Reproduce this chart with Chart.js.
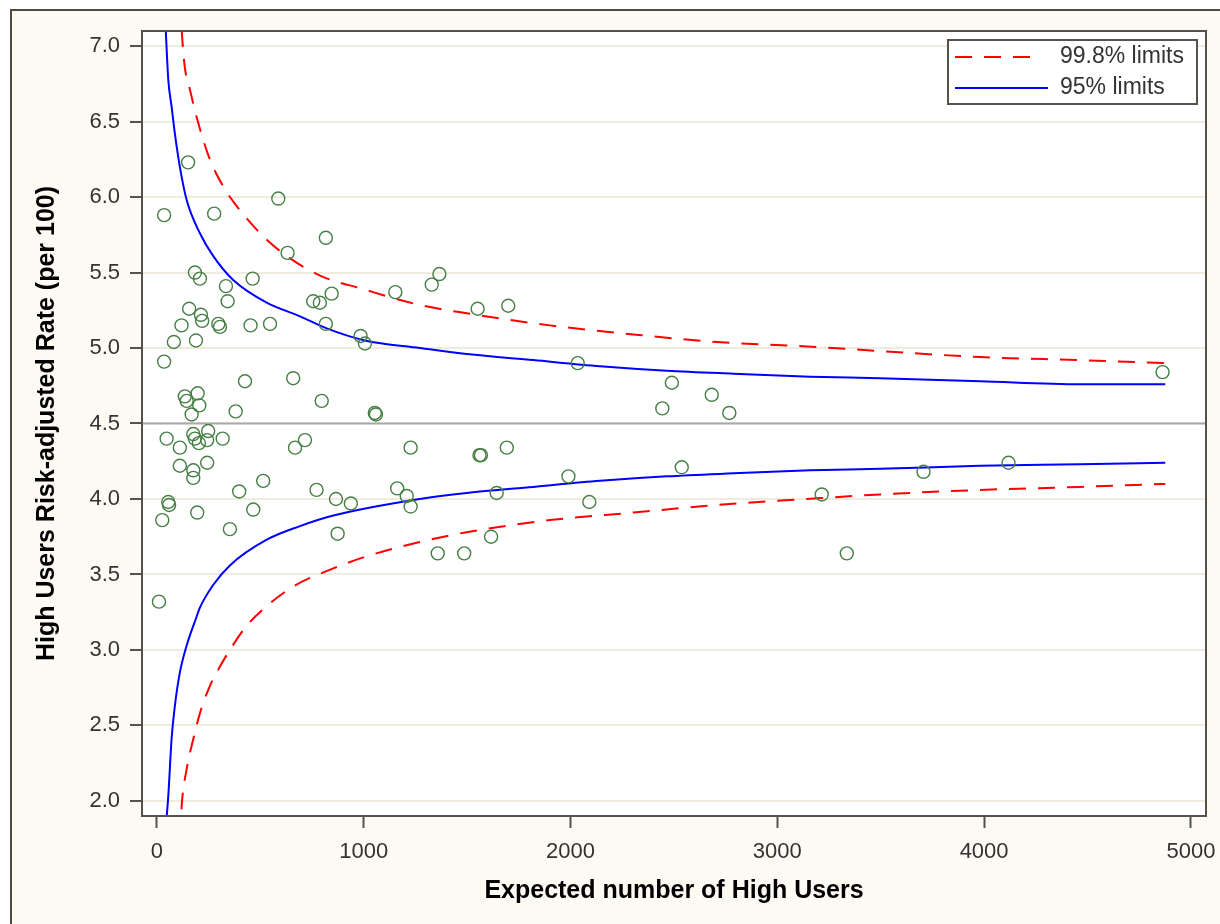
<!DOCTYPE html>
<html lang="en">
  <head>
    <meta charset="UTF-8" />
    <title>High Users | Funnel Plot</title>
    <script src="https://cdn.jsdelivr.net/npm/chart.js@4.4.1/dist/chart.umd.min.js"></script>
    <style>
      body { margin: 0; background: #fff; }
      canvas { display: block; }
    </style>
  </head>
  <body>
    <canvas id="funnelChart" width="1220" height="924"></canvas>

    <script>
      // axis ranges and tick labels
      const xMin = -72, xMax = 5073;
      const yMin = 1.9, yMax = 7.1;
      const xTicks = [0, 1000, 2000, 3000, 4000, 5000];
      const yTicks = [2.0, 2.5, 3.0, 3.5, 4.0, 4.5, 5.0, 5.5, 6.0, 6.5, 7.0];
      const meanRate = 4.5;

      // observed units (expected count, risk-adjusted rate)
      const expectedUsers = [
        151, 35, 277, 587, 817, 632, 184, 208, 334, 463, 1153, 845, 756, 788, 342, 156,
        213, 219, 297, 305, 119, 453, 547, 817, 82, 189, 985, 1006, 35, 426, 659, 135,
        144, 197, 205, 168, 381, 797, 1054, 1059, 47, 111, 176, 184, 203, 243, 248, 318,
        668, 716, 1227, 111, 176, 176, 243, 514, 398, 772, 866, 938, 1162, 1208, 1227, 55,
        59, 26, 195, 466, 353, 874, 10, 1366, 1329, 1551, 1699, 2035, 2490, 2683, 2444, 2768,
        1560, 1567, 1692, 2538, 1990, 1643, 2091, 1616, 1358, 1486, 4863, 3215, 3707, 4118, 3336
      ];
      const riskRate = [
        6.23, 5.88, 5.89, 5.99, 5.73, 5.63, 5.50, 5.46, 5.41, 5.46, 5.37, 5.36, 5.31, 5.30, 5.31, 5.26,
        5.22, 5.18, 5.16, 5.14, 5.15, 5.15, 5.16, 5.16, 5.04, 5.05, 5.08, 5.03, 4.91, 4.78, 4.80, 4.68,
        4.65, 4.70, 4.62, 4.56, 4.58, 4.65, 4.57, 4.56, 4.40, 4.34, 4.43, 4.40, 4.37, 4.39, 4.45, 4.40,
        4.34, 4.39, 4.34, 4.22, 4.19, 4.14, 4.24, 4.12, 4.05, 4.06, 4.00, 3.97, 4.07, 4.02, 3.95, 3.98,
        3.96, 3.86, 3.91, 3.93, 3.80, 3.77, 3.32, 5.49, 5.42, 5.26, 5.28, 4.90, 4.77, 4.69, 4.60, 4.57,
        4.29, 4.29, 4.34, 4.21, 4.15, 4.04, 3.98, 3.75, 3.64, 3.64, 4.84, 4.03, 4.18, 4.24, 3.64
      ];

      // control limits
      const upper95X = [38, 55, 71, 87, 111, 144, 208, 272, 369, 531, 692, 821, 1006, 1272, 1498, 1820, 2143, 2466, 2788, 3159, 3497, 3981, 4465, 4876];
      const upper95 = [7.25, 6.78, 6.60, 6.42, 6.20, 5.98, 5.76, 5.61, 5.45, 5.30, 5.21, 5.13, 5.05, 5.00, 4.96, 4.92, 4.88, 4.85, 4.83, 4.81, 4.80, 4.78, 4.76, 4.76];
      const lower95X = [38, 55, 71, 87, 111, 144, 192, 208, 272, 353, 531, 692, 853, 1272, 1498, 1820, 2143, 2466, 2788, 3159, 3497, 3981, 4465, 4876];
      const lower95 = [1.75, 2.03, 2.41, 2.63, 2.85, 3.03, 3.22, 3.28, 3.43, 3.56, 3.73, 3.82, 3.89, 4.00, 4.04, 4.08, 4.12, 4.15, 4.17, 4.19, 4.20, 4.22, 4.23, 4.24];
      const upper998X = [112, 120, 135, 160, 192, 256, 321, 386, 514, 627, 789, 998, 1256, 1498, 1901, 2304, 2707, 3143, 3497, 3981, 4465, 4876];
      const upper998 = [7.30, 7.10, 6.86, 6.71, 6.53, 6.25, 6.07, 5.94, 5.74, 5.61, 5.48, 5.39, 5.29, 5.23, 5.15, 5.09, 5.04, 5.01, 4.98, 4.94, 4.92, 4.90];
      const lower998X = [112, 120, 144, 176, 208, 256, 305, 353, 434, 531, 659, 853, 1014, 1256, 1498, 1901, 2304, 2707, 3143, 3497, 3981, 4465, 4876];
      const lower998 = [1.75, 1.97, 2.21, 2.41, 2.58, 2.76, 2.89, 3.00, 3.16, 3.29, 3.42, 3.54, 3.62, 3.71, 3.78, 3.86, 3.91, 3.96, 4.00, 4.03, 4.06, 4.08, 4.10];

      const legendLabels = ["99.8% limits", "95% limits"];

      const toPoints = (xs, ys) => xs.map((x, i) => ({ x: x, y: ys[i] }));

      const RED = "#ff0000";
      const BLUE = "#0000ff";
      const FRAME = "#55524a";

      function limitLine(label, xs, ys, color, dash) {
        return {
          type: "line",
          label: label,
          data: toPoints(xs, ys),
          borderColor: color,
          borderWidth: 2,
          borderDash: dash,
          pointRadius: 0,
          fill: false,
          cubicInterpolationMode: "monotone"
        };
      }

      const framePlugin = {
        id: "framePlugin",
        beforeDraw(chart) {
          const { ctx, width, height, chartArea: a } = chart;
          ctx.save();
          ctx.fillStyle = "#fff";
          ctx.fillRect(0, 0, width, height);
          ctx.fillStyle = "#fcfaf3";
          ctx.fillRect(11, 10, width, height);
          ctx.strokeStyle = "#4e4b40";
          ctx.lineWidth = 2;
          ctx.beginPath();
          ctx.moveTo(11, height);
          ctx.lineTo(11, 10);
          ctx.lineTo(width, 10);
          ctx.stroke();
          ctx.fillStyle = "#fff";
          ctx.fillRect(a.left, a.top, a.right - a.left, a.bottom - a.top);
          ctx.restore();
        },
        afterDraw(chart) {
          const { ctx, chartArea: a } = chart;
          ctx.save();
          ctx.strokeStyle = FRAME;
          ctx.lineWidth = 2;
          ctx.strokeRect(a.left, a.top, a.right - a.left, a.bottom - a.top);

          // legend box in the top right corner of the plot
          const bw = 249, bh = 64;
          const bx = a.right - 9 - bw, by = a.top + 9;
          ctx.fillStyle = "#fff";
          ctx.fillRect(bx, by, bw, bh);
          ctx.strokeRect(bx, by, bw, bh);

          ctx.font = "23px 'Liberation Sans', Arial, sans-serif";
          ctx.textBaseline = "middle";
          ctx.textAlign = "left";
          legendLabels.forEach((label, i) => {
            const ds = chart.data.datasets.find((d) => d.label === label);
            const rowY = by + 17 + i * 31;
            ctx.strokeStyle = ds.borderColor;
            ctx.lineWidth = 2;
            ctx.setLineDash(ds.borderDash || []);
            ctx.beginPath();
            ctx.moveTo(bx + 7, rowY);
            ctx.lineTo(bx + (ds.borderDash ? 86 : 100), rowY);
            ctx.stroke();
            ctx.setLineDash([]);
            ctx.fillStyle = "#333";
            ctx.fillText(label, bx + 112, rowY);
          });
          ctx.restore();
        }
      };

      Chart.defaults.font.family = "'Liberation Sans', Arial, sans-serif";

      const ctx = document.getElementById("funnelChart").getContext("2d");
      new Chart(ctx, {
        type: "scatter",
        data: {
          datasets: [
            {
              label: "Risk-adjusted rate",
              data: toPoints(expectedUsers, riskRate),
              pointStyle: "circle",
              pointRadius: 6.5,
              borderWidth: 1.4,
              pointBorderColor: "#467f46",
              pointBackgroundColor: "rgba(0,0,0,0)",
              showLine: false
            },
            limitLine("99.8% limits", upper998X, upper998, RED, [17, 12]),
            limitLine("99.8% limits lower", lower998X, lower998, RED, [17, 12]),
            limitLine("95% limits", upper95X, upper95, BLUE, undefined),
            limitLine("95% limits lower", lower95X, lower95, BLUE, undefined),
            {
              type: "line",
              label: "Mean",
              data: toPoints([xMin, xMax], [meanRate, meanRate]),
              borderColor: "#a9a9a9",
              borderWidth: 2,
              pointRadius: 0
            }
          ]
        },
        options: {
          responsive: false,
          devicePixelRatio: 1,
          animation: false,
          layout: { padding: { top: 31, right: 14, left: 0, bottom: 0 } },
          plugins: {
            legend: { display: false },
            tooltip: { enabled: false }
          },
          scales: {
            x: {
              type: "linear",
              min: xMin,
              max: xMax,
              afterFit: (s) => {
                s.height = 108;
                s.paddingLeft = 0;
                s.paddingRight = 0;
              },
              afterBuildTicks: (s) => { s.ticks = xTicks.map((v) => ({ value: v })); },
              ticks: {
                autoSkip: false,
                maxRotation: 0,
                padding: 11,
                color: "#333",
                font: { size: 22 },
                callback: (v) => String(v)
              },
              grid: {
                drawOnChartArea: false,
                tickLength: 12,
                tickColor: FRAME,
                tickWidth: 2
              },
              border: { display: false },
              title: {
                display: true,
                text: "Expected number of High Users",
                color: "#000",
                font: { size: 25, weight: "bold" },
                padding: { top: 0, bottom: 18 }
              }
            },
            y: {
              type: "linear",
              min: yMin,
              max: yMax,
              afterFit: (s) => {
                s.width = 142;
                s.paddingTop = 0;
                s.paddingBottom = 0;
              },
              afterBuildTicks: (s) => { s.ticks = yTicks.map((v) => ({ value: v })); },
              ticks: {
                autoSkip: false,
                padding: 10,
                color: "#333",
                font: { size: 22 },
                callback: (v) => v.toFixed(1)
              },
              grid: {
                color: "#efebdd",
                lineWidth: 2,
                tickLength: 12,
                tickColor: FRAME,
                tickWidth: 2
              },
              border: { display: false },
              title: {
                display: true,
                text: "High Users Risk-adjusted Rate (per 100)",
                color: "#000",
                font: { size: 25, weight: "bold" },
                padding: { top: 32, bottom: 0 }
              }
            }
          }
        },
        plugins: [framePlugin]
      });
    </script>
  </body>
</html>
